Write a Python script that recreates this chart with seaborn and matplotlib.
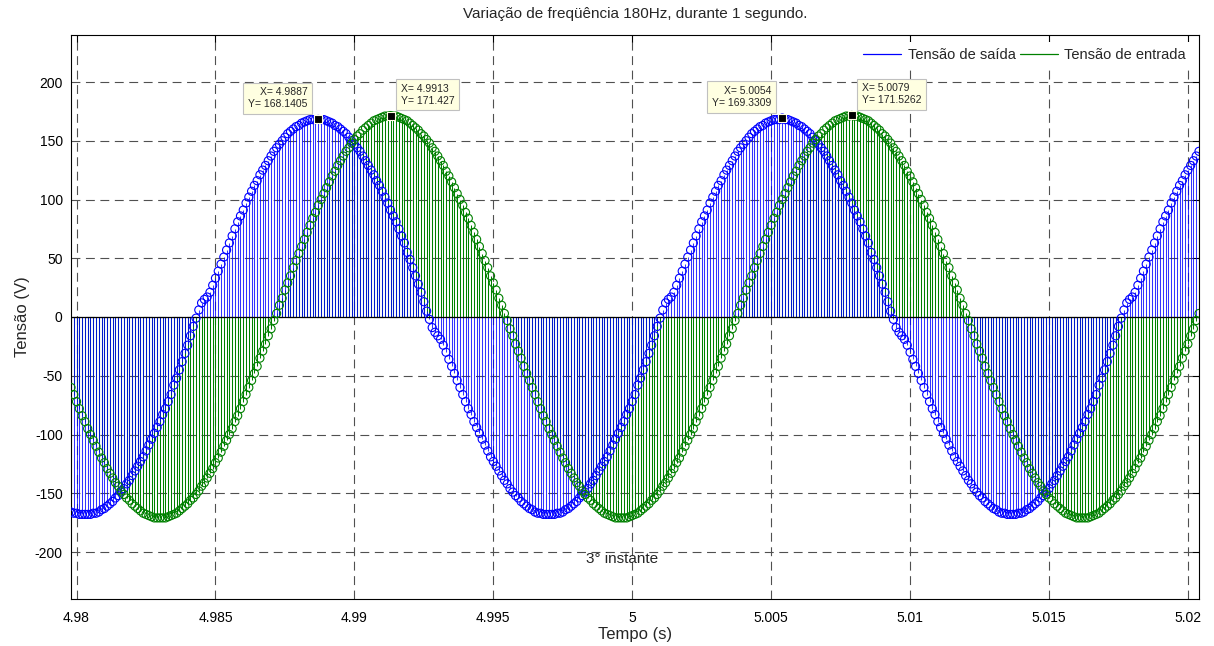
import numpy as np
import pandas as pd
import matplotlib
matplotlib.use("Agg")
import matplotlib.pyplot as plt
import seaborn as sns
from matplotlib.lines import Line2D

# ---------------- data ----------------
t_start = 4.9798      # first sample time (s)
t_step = 0.0001       # sampling step (s)

# Tensão de saída (blue), one value per sample
tensao_saida = [
    -166, -167, -167, -168, -168, -168, -168, -168, -167, -167,
    -166, -164, -163, -161, -159, -157, -154, -152, -149, -146,
    -142, -139, -135, -131, -127, -123, -119, -114, -109, -104,
    -99, -94, -89, -83, -78, -72, -66, -58, -52, -45,
    -38, -31, -24, -16, -8, -1, 6, 12, 15, 17,
    21, 27, 33, 39, 45, 51, 57, 63, 69, 75,
    81, 86, 91, 97, 102, 107, 112, 116, 121, 125,
    129, 133, 137, 141, 144, 147, 150, 153, 156, 158,
    160, 162, 163, 165, 166, 167, 168, 168, 168, 168.1405,
    168, 168, 167, 166, 165, 163, 162, 160, 158, 156,
    153, 150, 147, 144, 141, 137, 133, 129, 125, 121,
    116, 112, 107, 102, 97, 91, 86, 81, 75, 69,
    63, 55, 49, 42, 35, 28, 21, 13, 5, -2,
    -9, -13, -16, -19, -24, -30, -36, -42, -48, -54,
    -60, -66, -72, -78, -83, -89, -94, -99, -104, -109,
    -114, -119, -123, -127, -131, -135, -139, -142, -146, -149,
    -152, -154, -157, -159, -161, -163, -164, -166, -167, -167,
    -168, -168, -168, -168, -168, -167, -167, -166, -164, -163,
    -161, -159, -157, -154, -152, -149, -146, -142, -139, -135,
    -131, -127, -123, -119, -114, -109, -104, -99, -94, -89,
    -83, -78, -72, -66, -58, -52, -45, -38, -31, -24,
    -16, -8, -1, 6, 12, 15, 17, 21, 27, 33,
    39, 45, 51, 57, 63, 69, 75, 81, 86, 91,
    97, 102, 107, 112, 116, 121, 125, 129, 133, 137,
    141, 144, 147, 150, 153, 156, 158, 160, 162, 163,
    165, 166, 167, 168, 168, 168, 169.3309, 168, 168, 167,
    166, 165, 163, 162, 160, 158, 156, 153, 150, 147,
    144, 141, 137, 133, 129, 125, 121, 116, 112, 107,
    102, 97, 91, 86, 81, 75, 69, 63, 55, 49,
    42, 35, 28, 21, 13, 5, -2, -9, -13, -16,
    -19, -24, -30, -36, -42, -48, -54, -60, -66, -72,
    -78, -83, -89, -94, -99, -104, -109, -114, -119, -123,
    -127, -131, -135, -139, -142, -146, -149, -152, -154, -157,
    -159, -161, -163, -164, -166, -167, -167, -168, -168, -168,
    -168, -167, -167, -166, -164, -163, -161, -159, -157, -154,
    -152, -149, -146, -142, -139, -135, -131, -127, -123, -119,
    -114, -109, -104, -99, -94, -89, -83, -78, -72, -66,
    -58, -52, -45, -38, -31, -24, -16, -8, -1, 6,
    12, 15, 17, 21, 27, 33, 39, 45, 51, 57,
    63, 69, 75, 81, 86, 91, 97, 102, 107, 112,
    116, 121, 125, 129, 133, 137, 141,
]

# Tensão de entrada (green), one value per sample
tensao_entrada = [
    -60, -66, -72, -78, -84, -89, -95, -100, -105, -110,
    -115, -120, -124, -129, -133, -137, -141, -144, -148, -151,
    -154, -156, -159, -161, -163, -165, -167, -168, -169, -170,
    -171, -171, -171, -171, -171, -170, -169, -168, -167, -165,
    -163, -161, -159, -156, -154, -151, -148, -144, -141, -137,
    -133, -129, -124, -120, -115, -110, -105, -100, -95, -89,
    -84, -78, -72, -66, -60, -54, -48, -42, -35, -29,
    -23, -16, -10, -3,
    3, 10, 16, 23, 29, 35, 42, 48, 54, 60,
    66, 72, 78, 84, 89, 95, 100, 105, 110, 115,
    120, 124, 129, 133, 137, 141, 144, 148, 151, 154,
    156, 159, 161, 163, 165, 167, 168, 169, 170, 171,
    171, 171.427, 171, 171, 170, 169, 168, 167, 165, 163,
    161, 159, 156, 154, 151, 148, 144, 141, 137, 133,
    129, 124, 120, 115, 110, 105, 100, 95, 89, 84,
    78, 72, 66, 60, 54, 48, 42, 35, 29, 23,
    16, 10, 3,
    -3, -10, -16, -23, -29, -35, -42, -48, -54, -60,
    -66, -72, -78, -84, -89, -95, -100, -105, -110, -115,
    -120, -124, -129, -133, -137, -141, -144, -148, -151, -154,
    -156, -159, -161, -163, -165, -167, -168, -169, -170, -171,
    -171, -171, -171, -171, -170, -169, -168, -167, -165, -163,
    -161, -159, -156, -154, -151, -148, -144, -141, -137, -133,
    -129, -124, -120, -115, -110, -105, -100, -95, -89, -84,
    -78, -72, -66, -60, -54, -48, -42, -35, -29, -23,
    -16, -10, -3,
    3, 10, 16, 23, 29, 35, 42, 48, 54, 60,
    66, 72, 78, 84, 89, 95, 100, 105, 110, 115,
    120, 124, 129, 133, 137, 141, 144, 148, 151, 154,
    156, 159, 161, 163, 165, 167, 168, 169, 170, 171,
    171, 171.5262, 171, 171, 170, 169, 168, 167, 165, 163,
    161, 159, 156, 154, 151, 148, 144, 141, 137, 133,
    129, 124, 120, 115, 110, 105, 100, 95, 89, 84,
    78, 72, 66, 60, 54, 48, 42, 35, 29, 23,
    16, 10, 3,
    -3, -10, -16, -23, -29, -35, -42, -48, -54, -60,
    -66, -72, -78, -84, -89, -95, -100, -105, -110, -115,
    -120, -124, -129, -133, -137, -141, -144, -148, -151, -154,
    -156, -159, -161, -163, -165, -167, -168, -169, -170, -171,
    -171, -171, -171, -171, -170, -169, -168, -167, -165, -163,
    -161, -159, -156, -154, -151, -148, -144, -141, -137, -133,
    -129, -124, -120, -115, -110, -105, -100, -95, -89, -84,
    -78, -72, -66, -60, -54, -48, -42, -35, -29, -23,
    -16, -10, -3,
    3,
]

# data-cursor tips
cursor_x = [4.9887, 4.9913, 5.0054, 5.0079]
cursor_y = [168.1405, 171.427, 169.3309, 171.5262]
cursor_side = ["left", "right", "left", "right"]

x_ticks = [4.98, 4.985, 4.99, 4.995, 5.0, 5.005, 5.01, 5.015, 5.02]
x_tick_labels = ["4.98", "4.985", "4.99", "4.995", "5", "5.005", "5.01", "5.015", "5.02"]
y_ticks = [-200, -150, -100, -50, 0, 50, 100, 150, 200]
x_limits = [4.9798, 5.0204]
y_limits = [-240, 240]

series_names = ["Tensão de saída", "Tensão de entrada"]
title_text = "Variação de freqüência 180Hz, durante 1 segundo."
note_text = "3° instante"
note_pos = [4.99833, -206]

# ---------------- drawing ----------------
sns.set_style("white")
plt.rcParams["font.family"] = ["Liberation Sans", "DejaVu Sans"]
plt.rcParams["axes.unicode_minus"] = False

n = len(tensao_saida)
t = np.round(t_start + t_step * np.arange(n), 4)
df = pd.DataFrame({"t": t, "saida": tensao_saida, "entrada": tensao_entrada})

BLUE = "#0000ff"
GREEN = "#008000"

fig = plt.figure(figsize=(12.14, 6.46), dpi=100)
ax = fig.add_axes([71 / 1214, 1 - 599 / 646, (1199 - 71) / 1214, (599 - 35) / 646])

# stems
ax.vlines(df["t"], 0, df["entrada"], colors=GREEN, linewidth=0.75, zorder=2)
ax.vlines(df["t"], 0, df["saida"], colors=BLUE, linewidth=0.75, alpha=0.8, zorder=2.1)
ax.axhline(0, color="black", linewidth=0.9, zorder=2.5)

# stem heads
for col, colr in (("saida", BLUE), ("entrada", GREEN)):
    sns.scatterplot(data=df, x="t", y=col, ax=ax, marker="o", s=34,
                    legend=False, zorder=3)
    coll = ax.collections[-1]
    coll.set_facecolor("none")
    coll.set_edgecolor(colr)
    coll.set_linewidth(0.8)

# data cursors
ax.scatter(cursor_x, cursor_y, marker="s", s=30, c="black",
           edgecolors="#ffffe1", linewidths=0.8, zorder=5)
for cx, cy, side in zip(cursor_x, cursor_y, cursor_side):
    dx = -11 if side == "left" else 10
    ax.annotate(f"X= {cx:.7g}\nY= {cy:.7g}", xy=(cx, cy), xytext=(dx, 10),
                textcoords="offset pixels",
                ha="right" if side == "left" else "left", va="bottom",
                fontsize=7.5, linespacing=1.25, zorder=6,
                bbox=dict(boxstyle="square,pad=0.45", fc="#ffffe1",
                          ec="#c0c0c0", lw=0.8))

ax.text(note_pos[0], note_pos[1], note_text, fontsize=11, ha="left",
        va="center", zorder=6)

ax.set_xlim(x_limits)
ax.set_ylim(y_limits)
ax.set_xticks(x_ticks)
ax.set_xticklabels(x_tick_labels)
ax.set_yticks(y_ticks)

ax.grid(True, color="#505050", linestyle=(0, (8, 5)), linewidth=0.8)
ax.set_axisbelow(True)
ax.tick_params(direction="in", length=5, width=0.8, top=True, right=True,
               labelsize=10, colors="black")
ax.tick_params(axis="x", pad=9)
ax.tick_params(axis="y", pad=6)
for sp in ax.spines.values():
    sp.set_color("black")
    sp.set_linewidth(0.8)

ax.set_title(title_text, fontsize=11, pad=12)
ax.set_xlabel("Tempo (s)", fontsize=12, labelpad=1)
ax.set_ylabel("Tensão (V)", fontsize=12, labelpad=3)

handles = [Line2D([0], [0], color=BLUE, lw=0.9), Line2D([0], [0], color=GREEN, lw=0.9)]
leg = ax.legend(handles, series_names, loc="upper right", ncol=2, fontsize=10.5,
                frameon=True, fancybox=False, framealpha=1, handlelength=2.6,
                handletextpad=0.45, columnspacing=0.3)
leg.get_frame().set_edgecolor("none")
leg.get_frame().set_facecolor("white")
leg.set_zorder(10)

fig.savefig("out.png", dpi=100)
